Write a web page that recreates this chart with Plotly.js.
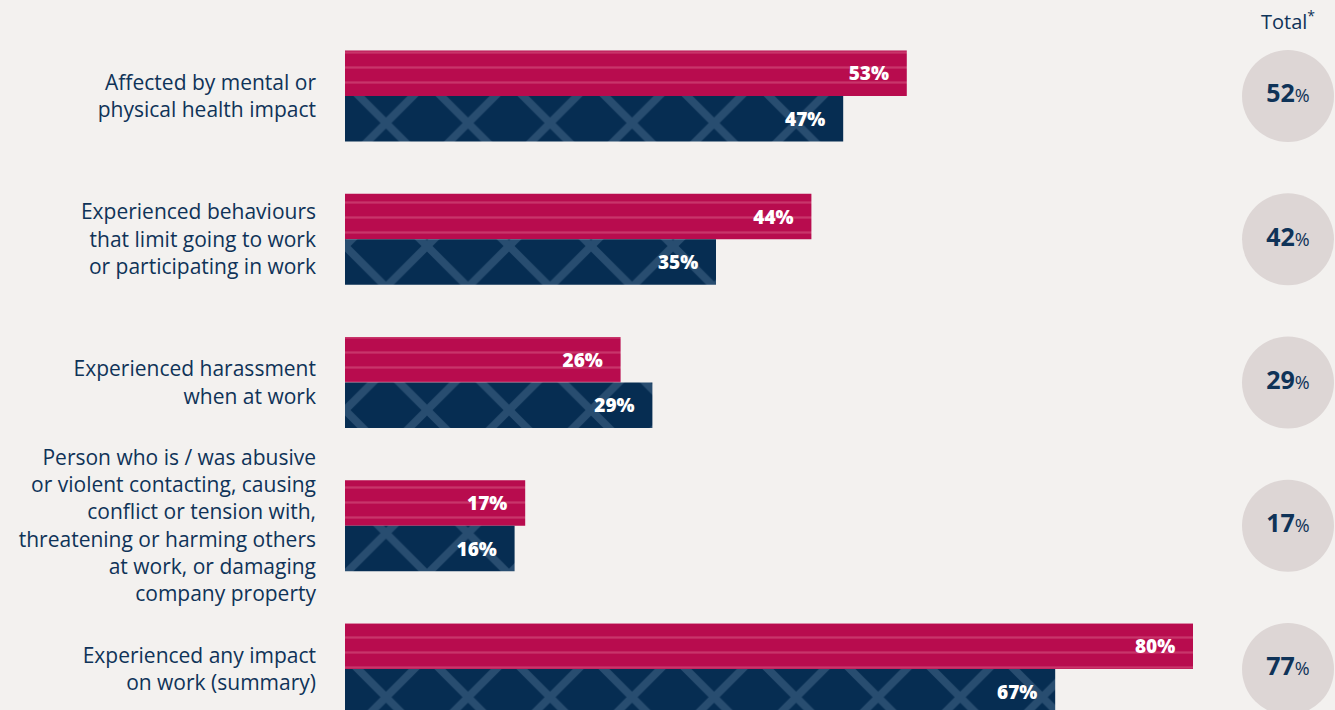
<!DOCTYPE html>
<html>
<head>
<meta charset="utf-8">
<script src="https://cdn.plot.ly/plotly-3.0.1.min.js"></script>
<style>
  html, body { margin: 0; padding: 0; background: #f3f1ef; }
  #chart { width: 1335px; height: 710px; }
</style>
</head>
<body>
<div id="chart"></div>
<script>
const categories = [
  "Affected by mental or<br>physical health impact",
  "Experienced behaviours<br>that limit going to work<br>or participating in work",
  "Experienced harassment<br>when at work",
  "Person who is / was abusive<br>or violent contacting, causing<br>conflict or tension with,<br>threatening or harming others<br>at work, or damaging<br>company property",
  "Experienced any impact<br>on work (summary)"
];
const seriesPink = [53, 44, 26, 17, 80];
const seriesNavy = [47, 35, 29, 16, 67];
const totals = [52, 42, 29, 17, 77];

const idx = categories.map((_, i) => i);
const navyText = "#0f3358";
const nb = "\u00a0\u00a0\u00a0";

const pink = {
  type: "bar", orientation: "h", x: seriesPink, y: idx, xaxis: "x", yaxis: "y",
  marker: { color: "#b80c4e", line: { width: 0 },
    pattern: { shape: "-", fgcolor: "#c8356a", bgcolor: "#b80c4e", fillmode: "replace", size: 15, solidity: 0.15 } },
  text: seriesPink.map(v => v + "%" + nb),
  textposition: "inside", insidetextanchor: "end", constraintext: "none",
  insidetextfont: { family: "Open Sans, sans-serif", size: 19, color: "#ffffff", weight: 800 },
  hoverinfo: "none", cliponaxis: false
};
const navy = {
  type: "bar", orientation: "h", x: seriesNavy, y: idx, xaxis: "x", yaxis: "y",
  marker: { color: "#062d52", line: { width: 0 },
    pattern: { shape: "x", fgcolor: "#284d70", bgcolor: "#062d52", fillmode: "replace", size: 58, solidity: 0.25 } },
  text: seriesNavy.map(v => v + "%" + nb),
  textposition: "inside", insidetextanchor: "end", constraintext: "none",
  insidetextfont: { family: "Open Sans, sans-serif", size: 19, color: "#ffffff", weight: 800 },
  hoverinfo: "none", cliponaxis: false
};
const circleX = 1288;
const totalTrace = {
  type: "scatter", mode: "markers+text", xaxis: "x2", yaxis: "y",
  x: totals.map(() => circleX), y: idx,
  marker: { size: 92, color: "#ddd6d5", line: { width: 0 } },
  text: totals.map(v => "<b>" + v + "</b><span style='font-size:18px'>%</span>"),
  textposition: "middle center",
  textfont: { family: "Open Sans, sans-serif", size: 25, color: navyText },
  hoverinfo: "none", cliponaxis: false
};

const layout = {
  width: 1335, height: 710,
  paper_bgcolor: "#f3f1ef", plot_bgcolor: "rgba(0,0,0,0)",
  margin: { l: 0, r: 0, t: 0, b: 0 },
  barmode: "group", bargap: 0.365, bargroupgap: 0,
  showlegend: false,
  xaxis: { domain: [345/1335, 1], range: [0, (1335-345)/10.6], visible: false, fixedrange: true },
  xaxis2: { domain: [0, 1], range: [0, 1335], visible: false, anchor: "y" },
  yaxis: {
    range: [4.286, -0.67], tickmode: "array", tickvals: idx, ticktext: categories,
    showgrid: false, zeroline: false, showline: false, ticks: "",
    ticklabelstandoff: 28,
    tickfont: { family: "Open Sans, sans-serif", size: 21, color: navyText }
  },
  annotations: [{
    xref: "paper", yref: "paper", x: 1288/1335, y: 1 - 21/710,
    text: "Total<sup>*</sup>", showarrow: false, xanchor: "center", yanchor: "middle",
    font: { family: "Open Sans, sans-serif", size: 20, color: navyText }
  }]
};

Plotly.newPlot("chart", [pink, navy, totalTrace], layout, { staticPlot: true, displayModeBar: false });
</script>
</body>
</html>
